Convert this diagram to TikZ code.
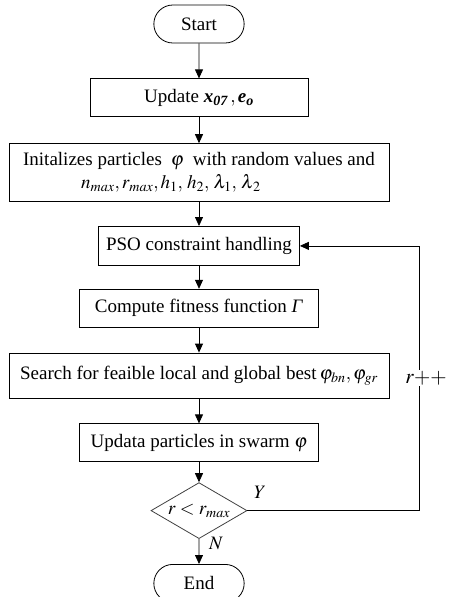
\documentclass[tikz,border=0pt]{standalone}
\usepackage{amsmath}
\usepackage{mathptmx}
\usepackage{fontspec}
\setmainfont{Liberation Serif}
\usetikzlibrary{shapes.geometric,shapes.misc,arrows.meta,positioning}

\begin{document}
\begin{tikzpicture}[->,>={Triangle[length=9pt,width=8pt]},line width=0.8pt,font=\fontsize{19}{23}\selectfont]
\tikzstyle{term}=[rounded rectangle,draw,minimum width=97pt,minimum height=38pt]
\tikzstyle{proc}=[rectangle,draw,minimum height=38pt,inner sep=4pt]
\tikzstyle{test}=[diamond,draw=black!75,minimum width=96pt,minimum height=56pt,inner sep=0pt]
\useasboundingbox (0,0) rectangle (448pt,-597pt);
\node[term] (start) at (199pt,-24pt) {Start};
\node[proc,minimum width=218pt,below=35pt of start] (upd) {Update $\textbf{\textit{x}}_{\textbf{\textit{07}}}\,,\textbf{\textit{e}}_{\textbf{\textit{o}}}$};
\node[proc,minimum width=380pt,minimum height=58pt,below=26pt of upd,align=left] (init)
  {Initalizes particles $\;\varphi\;$ with random values and\\
   \hspace*{58pt}$n_{max},r_{max},h_1,\,h_2,\,\lambda_1,\,\lambda_{\,2}$};
\node[proc,minimum width=201pt,minimum height=39pt,below=24pt of init] (pso) {PSO constraint handling};
\node[proc,minimum width=239pt,below=23pt of pso] (fit) {Compute fitness function \textit{Γ}};
\node[proc,minimum width=380pt,minimum height=45pt,below=25pt of fit] (best) {Search for feaible local and global best\,$\varphi_{bn},\varphi_{gr}$};
\node[proc,minimum width=239pt,below=25pt of best] (move) {Updata particles in swarm $\varphi$};
\node[test,below=20pt of move] (stop) {\makebox[0pt]{$r<r_{max}$}};
\node[term,below=25pt of stop] (end) {End};
\coordinate (back) at (419pt,0);
\path (start) edge (upd)
      (upd)   edge (init)
      (init)  edge (pso)
      (pso)   edge (fit)
      (fit)   edge (best)
      (best)  edge (move)
      (move)  edge (stop)
      (stop)  edge (end);
\draw (stop.east) -- (stop.east -| back) -- (pso.east -| back) -- (pso.east);
\node[fill=white,inner sep=1pt,font=\fontsize{21}{25}\selectfont] (inc) at (426pt,-378pt) {$r{+}{+}$};
\node (yes) at (260pt,-492pt) {$Y$};
\node (no) at (216pt,-543pt) {$N$};
\end{tikzpicture}
\end{document}
